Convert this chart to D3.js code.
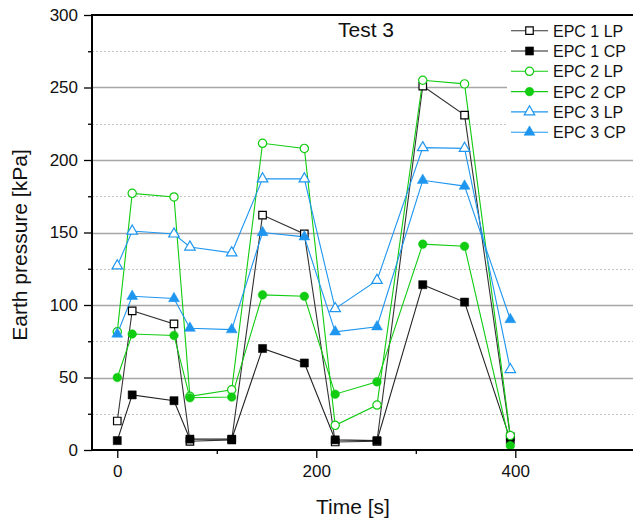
<!DOCTYPE html>
<html>
<head>
<meta charset="utf-8">
<script src="https://cdn.jsdelivr.net/npm/d3@7"></script>
<style>
  html, body { margin: 0; padding: 0; background: #fff; }
  svg { display: block; font-family: "Liberation Sans", Arial, sans-serif; }
</style>
</head>
<body>
<svg id="chart" width="633" height="524"></svg>
<script>
// ---- data ----
const times = [0, 15, 57, 73, 115, 146, 188, 219, 261, 307, 349, 395];
const epc1LP = [20, 96, 87, 6, 7, 162, 149, 5.5, 6, 251, 231, 9];
const epc1CP = [6.5, 38, 34, 7.5, 7.5, 70, 60, 7, 6.5, 114, 102, 7];
const epc2LP = [81.5, 177, 174.5, 37, 41.5, 211.5, 208, 17, 31, 255, 252.5, 10];
const epc2CP = [50, 80, 79, 36, 36.5, 107, 106, 38.5, 47, 142, 140.5, 3];
const epc3LP = [127, 151, 149, 140, 136, 187, 187, 97.5, 117, 208.5, 208, 55.5];
const epc3CP = [80, 106, 104.5, 84, 83, 150, 147, 81.5, 85, 186, 182, 90];
const seriesNames = ["EPC 1 LP", "EPC 1 CP", "EPC 2 LP", "EPC 2 CP", "EPC 3 LP", "EPC 3 CP"];
const xTicks = [0, 200, 400];
const xMinorTicks = [100, 300];
const yTicks = [0, 50, 100, 150, 200, 250, 300];
const yMinorTicks = [25, 75, 125, 175, 225, 275];
const chartTitle = "Test 3";
const xTitle = "Time [s]";
const yTitle = "Earth pressure [kPa]";

// ---- styles ----
const black = "#000000", green = "#11cc11", blue = "#1e96f0";
const series = [
  { name: seriesNames[0], values: epc1LP, color: black, line: "#333", shape: d3.symbolSquare, size: 56, filled: false },
  { name: seriesNames[1], values: epc1CP, color: black, line: "#222", shape: d3.symbolSquare, size: 66, filled: true },
  { name: seriesNames[2], values: epc2LP, color: green, line: green, shape: d3.symbolCircle, size: 54, filled: false },
  { name: seriesNames[3], values: epc2CP, color: green, line: green, shape: d3.symbolCircle, size: 58, filled: true },
  { name: seriesNames[4], values: epc3LP, color: blue, line: blue, shape: d3.symbolTriangle, size: 48, filled: false },
  { name: seriesNames[5], values: epc3CP, color: blue, line: blue, shape: d3.symbolTriangle, size: 52, filled: true }
];

const svg = d3.select("#chart");
const L = 92, R = 635, T = 15, B = 450;
const x = d3.scaleLinear().domain([-25.4, 520.3]).range([L, R]);
const y = d3.scaleLinear().domain([0, 300]).range([B, T]);

// gridlines
svg.append("g").selectAll("line").data(yMinorTicks).join("line")
  .attr("x1", L).attr("x2", R)
  .attr("y1", d => Math.round(y(d)) + 0.5).attr("y2", d => Math.round(y(d)) + 0.5)
  .attr("stroke", "#c4c4c4").attr("stroke-width", 1).attr("stroke-dasharray", "2,2");
svg.append("g").selectAll("line").data(yTicks.filter(d => d > 0 && d < 300)).join("line")
  .attr("x1", L).attr("x2", R)
  .attr("y1", d => Math.round(y(d)) + 0.5).attr("y2", d => Math.round(y(d)) + 0.5)
  .attr("stroke", "#a6a6a6").attr("stroke-width", 1.5);

// series
const line = d3.line().x((d, i) => x(times[i])).y(d => y(d));
series.forEach(s => {
  svg.append("path").datum(s.values)
    .attr("d", line).attr("fill", "none")
    .attr("stroke", s.line).attr("stroke-width", 1.1);
});
series.forEach(s => {
  const sym = d3.symbol().type(s.shape).size(s.size);
  svg.append("g").selectAll("path").data(s.values).join("path")
    .attr("transform", (d, i) => `translate(${x(times[i])},${y(d)})`)
    .attr("d", sym)
    .attr("fill", s.filled ? s.color : "#fff")
    .attr("stroke", s.color).attr("stroke-width", s.filled ? 0.5 : 1.2);
});

// legend
const lg = svg.append("g");
lg.append("rect").attr("x", 507).attr("y", T + 1).attr("width", 130).attr("height", 127).attr("fill", "#fff");
series.forEach((s, i) => {
  const cy = 30.7 + i * 20.3;
  lg.append("line").attr("x1", 511).attr("x2", 548).attr("y1", cy).attr("y2", cy)
    .attr("stroke", s.line).attr("stroke-width", 1.1);
  lg.append("path").attr("transform", `translate(529.5,${cy})`)
    .attr("d", d3.symbol().type(s.shape).size(s.size)())
    .attr("fill", s.filled ? s.color : "#fff")
    .attr("stroke", s.color).attr("stroke-width", s.filled ? 0.5 : 1.2);
  lg.append("text").attr("x", 553).attr("y", cy + 6)
    .attr("font-size", 16).attr("fill", "#111").text(s.name);
});

// axes
const yAxis = svg.append("g").attr("transform", `translate(${L},0)`)
  .call(d3.axisLeft(y).tickValues(yTicks).tickSize(8).tickPadding(6).tickFormat(d3.format("d")));
svg.append("g").attr("transform", `translate(${L},0)`)
  .call(d3.axisLeft(y).tickValues(yMinorTicks).tickSize(4).tickFormat(""));
const xAxis = svg.append("g").attr("transform", `translate(0,${B})`)
  .call(d3.axisBottom(x).tickValues(xTicks).tickSize(8).tickPadding(7).tickFormat(d3.format("d")));
svg.append("g").attr("transform", `translate(0,${B})`)
  .call(d3.axisBottom(x).tickValues(xMinorTicks).tickSize(4).tickFormat(""));
svg.selectAll(".domain").remove();
svg.selectAll(".tick line").attr("stroke", "#000").attr("stroke-width", 1.3);
svg.selectAll(".tick text").attr("font-size", 17).attr("fill", "#111")
  .attr("font-family", "'Liberation Sans', Arial, sans-serif");

// frame lines
svg.append("line").attr("x1", L).attr("x2", L).attr("y1", T - 1).attr("y2", B + 1).attr("stroke", "#000").attr("stroke-width", 2);
svg.append("line").attr("x1", L - 1).attr("x2", 633).attr("y1", B).attr("y2", B).attr("stroke", "#000").attr("stroke-width", 2);
svg.append("line").attr("x1", L - 1).attr("x2", 633).attr("y1", T).attr("y2", T).attr("stroke", "#000").attr("stroke-width", 2);

// titles
svg.append("text").attr("x", 366).attr("y", 36.5).attr("text-anchor", "middle")
  .attr("font-size", 21).attr("fill", "#111").text(chartTitle);
svg.append("text").attr("x", 353).attr("y", 514).attr("text-anchor", "middle")
  .attr("font-size", 21).attr("fill", "#111").text(xTitle);
svg.append("text").attr("transform", "translate(27,245) rotate(-90)").attr("text-anchor", "middle")
  .attr("font-size", 21).attr("fill", "#111").text(yTitle);
</script>
</body>
</html>
